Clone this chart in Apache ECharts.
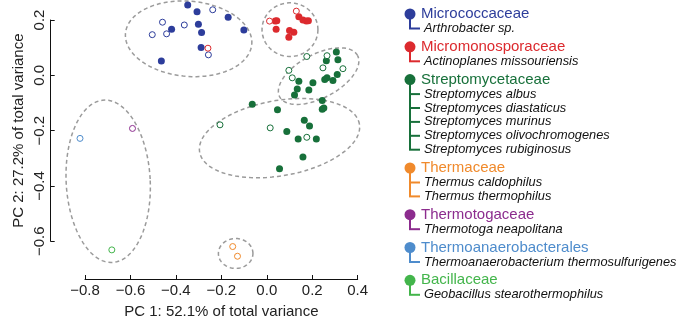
<!DOCTYPE html>
<html>
<head>
<meta charset="UTF-8">
<title>PCA</title>
<script src="https://cdn.jsdelivr.net/npm/echarts@6/dist/echarts.min.js"></script>
<style>
  html, body { margin: 0; padding: 0; background: #fff; }
  #main { width: 685px; height: 321px; }
</style>
</head>
<body>
<div id="main"></div>
<script>
// families, colours and species names (legend)
var famNames = ['Micrococcaceae', 'Micromonosporaceae', 'Streptomycetaceae', 'Thermaceae',
  'Thermotogaceae', 'Thermoanaerobacterales', 'Bacillaceae'];
var famColors = ['#2d3d9b', '#dc2a2e', '#17703a', '#f08a2c', '#8c2c8e', '#4e8ccc', '#43b54b'];
var famSpecies = [
  ['Arthrobacter sp.'],
  ['Actinoplanes missouriensis'],
  ['Streptomyces albus', 'Streptomyces diastaticus', 'Streptomyces murinus',
   'Streptomyces olivochromogenes', 'Streptomyces rubiginosus'],
  ['Thermus caldophilus', 'Thermus thermophilus'],
  ['Thermotoga neapolitana'],
  ['Thermoanaerobacterium thermosulfurigenes'],
  ['Geobacillus stearothermophilus']
];

// PC1 / PC2 scores, filled and open points per family
var microFilled = [[-0.348, 0.254], [-0.307, 0.230], [-0.170, 0.210], [-0.301, 0.185], [-0.419, 0.167],
  [-0.101, 0.164], [-0.287, 0.155], [-0.289, 0.101], [-0.464, 0.052]];
var microOpen = [[-0.238, 0.237], [-0.459, 0.192], [-0.363, 0.182], [-0.504, 0.147], [-0.441, 0.150],
  [-0.257, 0.074]];
var monoFilled = [[0.037, 0.196], [0.044, 0.197], [0.041, 0.167], [0.100, 0.162], [0.119, 0.156],
  [0.097, 0.138], [0.141, 0.212], [0.159, 0.200], [0.174, 0.196], [0.183, 0.197]];
var monoOpen = [[0.012, 0.196], [0.130, 0.232], [-0.259, 0.098]];
var streptoFilled = [[0.306, 0.084], [0.262, 0.053], [0.313, 0.056], [0.141, -0.021], [0.203, -0.027],
  [0.255, -0.015], [0.265, -0.009], [0.291, -0.019], [0.310, 0.003], [0.134, -0.049], [0.185, -0.053],
  [0.122, -0.071], [0.244, -0.091], [0.244, -0.123], [0.251, -0.118], [-0.064, -0.105], [0.047, -0.124],
  [0.165, -0.162], [0.188, -0.183], [0.088, -0.203], [0.138, -0.230], [0.218, -0.230], [0.159, -0.295],
  [0.056, -0.338]];
var streptoOpen = [[0.176, 0.068], [0.265, 0.071], [0.247, 0.027], [0.335, 0.024], [0.097, 0.018],
  [0.112, -0.009], [-0.206, -0.179], [0.015, -0.190], [0.176, -0.224]];
var thermaOpen = [[-0.150, -0.619], [-0.129, -0.654]];
var thermotogaOpen = [[-0.591, -0.192]];
var thermoanOpen = [[-0.822, -0.228]];
var bacilOpen = [[-0.682, -0.631]];

var famFilled = [microFilled, monoFilled, streptoFilled, [], [], [], []];
var famOpen = [microOpen, monoOpen, streptoOpen, thermaOpen, thermotogaOpen, thermoanOpen, bacilOpen];

// cluster ellipses: centre, radii (axis units), rotation (deg)
var ellCx = [-0.344, 0.102, 0.228, 0.056, -0.698, -0.137];
var ellCy = [0.132, 0.165, -0.003, -0.227, -0.383, -0.644];
var ellRx = [0.279, 0.123, 0.194, 0.357, 0.185, 0.076];
var ellRy = [0.136, 0.097, 0.079, 0.136, 0.294, 0.054];
var ellRot = [-5, 0, 28, 10, 3, 0];

var xTicks = { min: -0.8, max: 0.4, step: 0.2 };
var yTicks = { min: -0.6, max: 0.2, step: 0.2 };

var FONT = '"Liberation Sans", Arial, sans-serif';

function fmt(v) {
  var s = Math.abs(v).toFixed(1);
  return (v < -1e-9 ? '\u2212' : '') + s;
}

var series = [];

series.push({
  type: 'custom',
  coordinateSystem: 'cartesian2d',
  silent: true,
  z: 1,
  encode: { x: 0, y: 1 },
  data: ellCx.map(function (c, i) { return [c, ellCy[i], ellRx[i], ellRy[i], ellRot[i]]; }),
  renderItem: function (params, api) {
    var c = api.coord([api.value(0), api.value(1)]);
    var s = api.size([api.value(2), api.value(3)]);
    var th = api.value(4) * Math.PI / 180;
    var pts = [];
    for (var i = 0; i <= 90; i++) {
      var t = i / 90 * Math.PI * 2;
      var dx = s[0] * Math.cos(t), dy = s[1] * Math.sin(t);
      pts.push([c[0] + dx * Math.cos(th) - dy * Math.sin(th),
                c[1] - (dx * Math.sin(th) + dy * Math.cos(th))]);
    }
    return {
      type: 'polyline',
      shape: { points: pts },
      style: { fill: null, stroke: '#9b9b9b', lineWidth: 1.5, lineDash: [4, 3] }
    };
  }
});

famNames.forEach(function (name, i) {
  if (famFilled[i].length) {
    series.push({
      name: name, type: 'scatter', clip: false, z: 3,
      symbol: 'circle', symbolSize: 7,
      itemStyle: { color: famColors[i], opacity: 1 },
      data: famFilled[i]
    });
  }
  series.push({
    name: name, type: 'scatter', clip: false, z: 4,
    symbol: 'circle', symbolSize: 6,
    itemStyle: { color: '#fff', borderColor: famColors[i], borderWidth: 1, opacity: 1 },
    data: famOpen[i]
  });
});

// legend on the right, drawn as graphic
var graphics = [];
var gy = 14;
famNames.forEach(function (name, i) {
  var sp = famSpecies[i];
  var lastY = gy + 14.5 + (sp.length - 1) * 13.9;
  graphics.push({ type: 'line', shape: { x1: 410, y1: gy, x2: 410, y2: lastY },
    style: { stroke: famColors[i], lineWidth: 2 } });
  graphics.push({ type: 'circle', shape: { cx: 410, cy: gy, r: 5.5 },
    style: { fill: famColors[i] } });
  graphics.push({ type: 'text', x: 421, y: gy,
    style: { text: name, fill: famColors[i], font: '15px ' + FONT, verticalAlign: 'middle' } });
  sp.forEach(function (s, k) {
    var yy = gy + 14.5 + k * 13.9;
    graphics.push({ type: 'line', shape: { x1: 409, y1: yy, x2: 420, y2: yy },
      style: { stroke: famColors[i], lineWidth: 2 } });
    graphics.push({ type: 'text', x: 424, y: yy,
      style: { text: s, fill: '#111', font: 'italic 12.8px ' + FONT, verticalAlign: 'middle' } });
  });
  gy = lastY + 18.3;
});

var chart = echarts.init(document.getElementById('main'));
chart.setOption({
  animation: false,
  backgroundColor: '#fff',
  textStyle: { fontFamily: FONT },
  grid: { left: 85, right: 327.3, top: 20, bottom: 79.7, outerBoundsMode: 'none', containLabel: false },
  xAxis: {
    type: 'value', min: xTicks.min, max: xTicks.max, interval: xTicks.step,
    offset: 37.7,
    name: 'PC 1: 52.1% of total variance', nameLocation: 'middle', nameGap: 25,
    nameTextStyle: { color: '#222', fontSize: 15, fontFamily: FONT },
    axisLine: { onZero: false, lineStyle: { color: '#111', width: 1 } },
    axisTick: { inside: true, length: 4, lineStyle: { color: '#111' } },
    axisLabel: { color: '#222', fontSize: 15, fontFamily: FONT, margin: 4, formatter: fmt },
    splitLine: { show: false }
  },
  yAxis: {
    type: 'value', min: yTicks.min, max: yTicks.max, interval: yTicks.step,
    offset: 34.3,
    name: 'PC 2: 27.2% of total variance', nameLocation: 'middle', nameGap: 24,
    nameRotate: 90,
    nameTextStyle: { color: '#222', fontSize: 15, fontFamily: FONT },
    axisLine: { onZero: false, lineStyle: { color: '#111', width: 1 } },
    axisTick: { inside: true, length: 4, lineStyle: { color: '#111' } },
    axisLabel: { color: '#222', fontSize: 15, fontFamily: FONT, margin: 3, rotate: 90, formatter: fmt },
    splitLine: { show: false }
  },
  graphic: { elements: graphics },
  series: series
});
</script>
</body>
</html>
